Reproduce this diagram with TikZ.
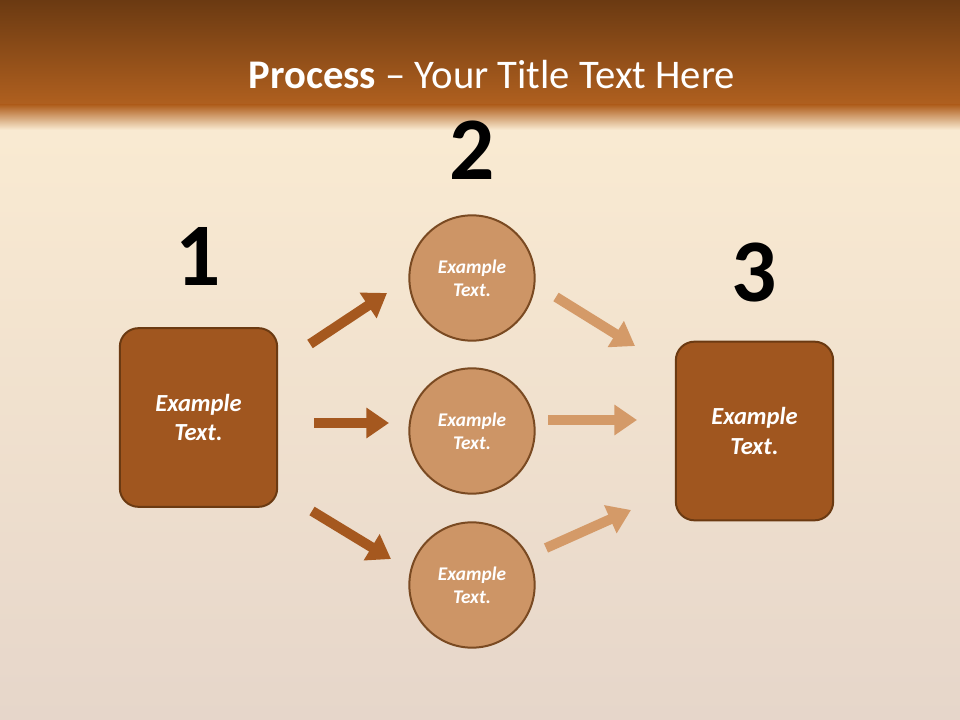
\documentclass[tikz,border=0pt]{standalone}
\usepackage{fontspec}
\setmainfont{Carlito}
\usetikzlibrary{arrows.meta}
\definecolor{dbrown}{HTML}{6B3A12}
\definecolor{mbrown}{HTML}{B0601F}
\definecolor{boxc}{HTML}{A0561F}
\definecolor{circc}{HTML}{CD9566}
\definecolor{circb}{HTML}{7A4A22}
\definecolor{larr}{HTML}{A5581F}
\definecolor{rarr}{HTML}{D49A68}
\definecolor{cream}{HTML}{FAEBD2}
\definecolor{greyc}{HTML}{E6D6CA}
\begin{document}
\begin{tikzpicture}[x=0.75pt,y=-0.75pt,
  box/.style={draw=dbrown,line width=1.5pt,fill=boxc,rounded corners=14pt,minimum width=118pt,minimum height=134pt,text=white,font=\bfseries\itshape\fontsize{18.4}{22}\selectfont,align=center},
  circ/.style={circle,draw=circb,line width=1.5pt,fill=circc,minimum size=94pt,text=white,font=\bfseries\itshape\fontsize{14.5}{17.5}\selectfont,align=center},
  num/.style={font=\bfseries\fontsize{67}{70}\selectfont,text=black},
  la/.style={draw=larr,line width=7.5pt,-{Triangle[length=17pt,width=22pt]}},
  ra/.style={draw=rarr,line width=7.5pt,-{Triangle[length=17pt,width=22pt]}}]
\useasboundingbox (0,0) rectangle (960,720);
\shade[top color=cream,bottom color=greyc] (0,110) rectangle (960,720);
\shade[top color=dbrown,bottom color=mbrown] (0,0) rectangle (960,105);
\shade[top color=mbrown,bottom color=cream] (0,105) rectangle (960,130);
\node[text=white,font=\fontsize{30.5}{36}\selectfont] (title) at (492,75) {\textbf{Process} -- Your Title Text Here};
\node[box] (b1) at (198.5,417.5) {Example\\Text.};
\node[box] (b3) at (754.5,431) {Example\\Text.};
\node[circ] (c1) at (472,278) {Example\\Text.};
\node[circ] (c2) at (472,431) {Example\\Text.};
\node[circ] (c3) at (472,585) {Example\\Text.};
\node[num] (n1) at (198,256) {1};
\node[num] (n2) at (472,150) {2};
\node[num] (n3) at (754,273) {3};
\coordinate (a1s) at (310,344); \coordinate (a1e) at (387,293);
\coordinate (a2s) at (314,423); \coordinate (a2e) at (389,423);
\coordinate (a3s) at (312,511); \coordinate (a3e) at (391,559);
\coordinate (r1s) at (556,297); \coordinate (r1e) at (635,346);
\coordinate (r2s) at (548,420); \coordinate (r2e) at (637,420);
\coordinate (r3s) at (546,548); \coordinate (r3e) at (631,510);
\draw[la] (a1s) -- (a1e);
\draw[la] (a2s) -- (a2e);
\draw[la] (a3s) -- (a3e);
\draw[ra] (r1s) -- (r1e);
\draw[ra] (r2s) -- (r2e);
\draw[ra] (r3s) -- (r3e);
\end{tikzpicture}
\end{document}
